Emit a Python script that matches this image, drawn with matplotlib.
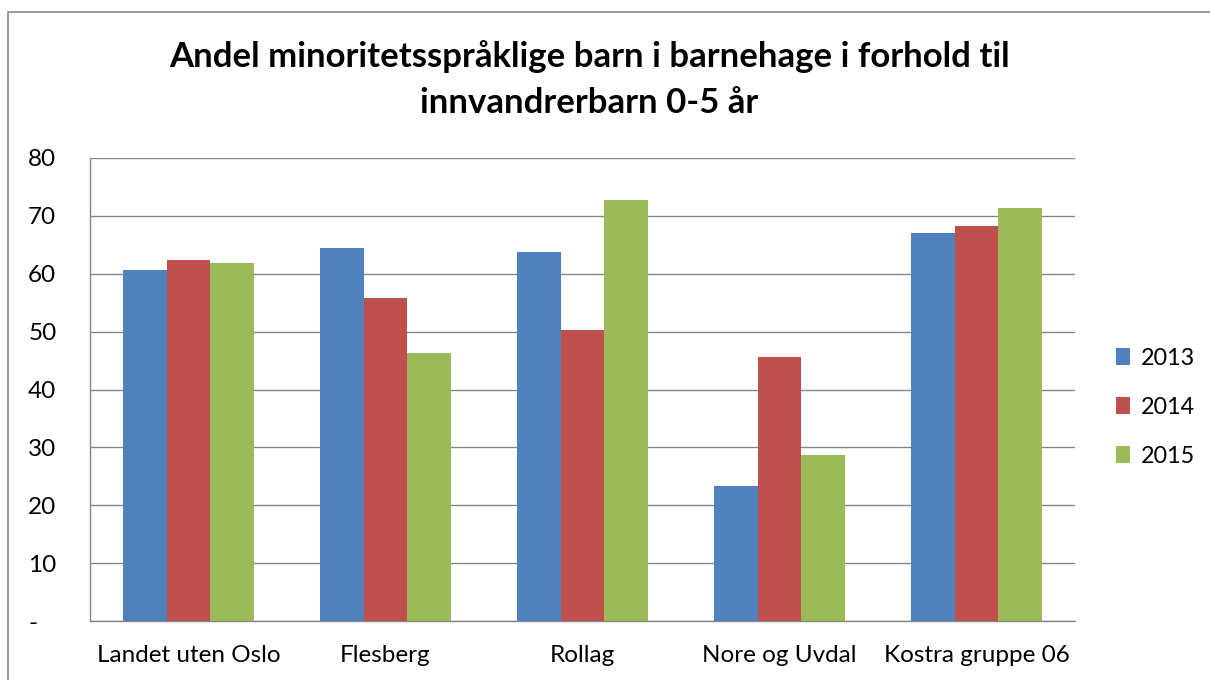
import matplotlib.pyplot as plt
import numpy as np
from matplotlib.patches import Rectangle

categories = ["Landet uten Oslo", "Flesberg", "Rollag", "Nore og Uvdal", "Kostra gruppe 06"]
years = ["2013", "2014", "2015"]
v2013 = [60.6, 64.4, 63.7, 23.3, 67.0]
v2014 = [62.3, 55.8, 50.3, 45.6, 68.2]
v2015 = [61.8, 46.3, 72.7, 28.7, 71.3]
yticks = [0, 10, 20, 30, 40, 50, 60, 70, 80]
ytick_labels = ["-", "10", "20", "30", "40", "50", "60", "70", "80"]

colors = ["#4F81BD", "#C0504D", "#9BBB59"]
font = ["Lato", "DejaVu Sans"]
plt.rcParams["font.family"] = font

fig = plt.figure(figsize=(12.1, 6.8), dpi=100)
ax = fig.add_axes([90 / 1210, 1 - 621 / 680, 985 / 1210, 463 / 680])

x = np.arange(len(categories))
w = 0.223
for i, (vals, yr) in enumerate(zip([v2013, v2014, v2015], years)):
    ax.bar(x + (i - 1) * w, vals, width=w, color=colors[i], label=yr, zorder=3)

ax.set_xlim(-0.5, len(categories) - 0.5)
ax.set_ylim(0, 80)
ax.set_yticks(yticks)
ax.set_yticklabels(ytick_labels)
ax.set_xticks(x)
ax.set_xticklabels(categories)
ax.tick_params(axis="both", length=0, labelsize=17.5, colors="black")
ax.tick_params(axis="y", pad=44.5)
ax.tick_params(axis="x", pad=17)
for lab in ax.get_yticklabels():
    lab.set_horizontalalignment("left")
ax.yaxis.grid(True, color="#868686", linewidth=1, zorder=0)
for s in ["top", "right"]:
    ax.spines[s].set_visible(False)
for s in ["left", "bottom"]:
    ax.spines[s].set_color("#868686")
    ax.spines[s].set_linewidth(1)

leg = ax.legend(loc="center left", bbox_to_anchor=(1.02, 0.462), frameon=False,
                fontsize=16.8, handlelength=0.62, handleheight=0.7,
                handletextpad=0.45, labelspacing=1.2)

fig.text(0.487, 1 - 57 / 680, "Andel minoritetsspråklige barn i barnehage i forhold til",
         ha="center", va="center", fontsize=25, fontweight="bold")
fig.text(0.487, 1 - 103 / 680, "innvandrerbarn 0-5 år",
         ha="center", va="center", fontsize=25, fontweight="bold")

fig.patches.append(Rectangle((8 / 1210, -0.01), 1.1, 1 - 12 / 680 + 0.01,
                             transform=fig.transFigure, fill=False,
                             edgecolor="#888888", linewidth=1.2))

fig.savefig("out.png", dpi=100)
